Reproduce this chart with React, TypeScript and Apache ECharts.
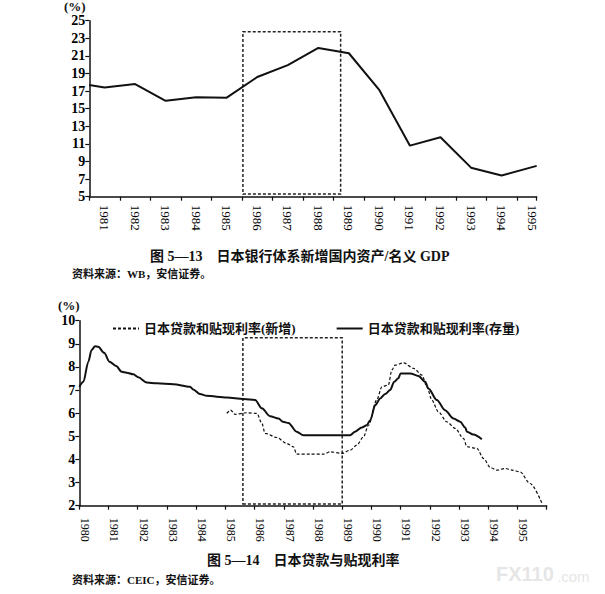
import React, { useEffect, useRef } from "react";
import * as echarts from "echarts";

// ---- Figure 5-13: new domestic assets of Japanese banking system / nominal GDP (%) ----
const topYears = [1980.5, 1981, 1982, 1983, 1984, 1985, 1986, 1987, 1988, 1989, 1990, 1991, 1992, 1993, 1994, 1995.15];
const topValues = [17.7, 17.4, 17.8, 15.9, 16.3, 16.25, 18.6, 19.95, 21.9, 21.3, 17.1, 10.8, 11.75, 8.3, 7.4, 8.5];
const topXRange = [1980.5, 1995.15];
const topYRange = [5, 25];
const topYStep = 2;
const topBox = [1985.53, 5.3, 1988.73, 23.75];

// ---- Figure 5-14: Japanese loan and discount rate (%) ----
const stockName = "日本贷款和贴现利率(存量)";
const newName = "日本贷款和贴现利率(新增)";
const stockYears = [
  1980.0, 1980.14, 1980.31, 1980.42, 1980.54, 1980.65, 1980.85, 1981.03, 1981.26, 1981.45,
  1981.62, 1981.85, 1982.02, 1982.31, 1982.65, 1983.22, 1983.79, 1983.9, 1984.13, 1984.36,
  1985.05, 1985.62, 1986.02, 1986.25, 1986.53, 1986.82, 1986.97, 1987.16, 1987.44, 1987.67,
  1988.59, 1989.27, 1989.44, 1989.67, 1989.84, 1989.96, 1990.13, 1990.3, 1990.47, 1990.64,
  1990.78, 1990.92, 1991.0, 1991.33, 1991.61, 1991.84, 1991.95, 1992.24, 1992.52, 1992.81,
  1993.04, 1993.21, 1993.27, 1993.49, 1993.78,
];
const stockValues = [
  7.14, 7.36, 8.23, 8.73, 8.9, 8.87, 8.61, 8.23, 8.04, 7.79,
  7.75, 7.68, 7.55, 7.33, 7.29, 7.25, 7.14, 7.03, 6.83, 6.75,
  6.68, 6.61, 6.57, 6.21, 5.87, 5.77, 5.63, 5.58, 5.2, 5.05,
  5.05, 5.05, 5.2, 5.38, 5.48, 5.7, 6.35, 6.64, 6.83, 7.0,
  7.36, 7.51, 7.72, 7.72, 7.61, 7.36, 7.07, 6.57, 6.13, 5.77,
  5.63, 5.38, 5.2, 5.08, 4.87,
];
const newYears = [
  1985.05, 1985.18, 1985.33, 1985.73, 1986.08, 1986.25, 1986.36, 1986.76, 1987.1, 1987.33,
  1987.44, 1987.9, 1988.36, 1988.59, 1988.99, 1989.27, 1989.5, 1989.73, 1989.9, 1990.18,
  1990.36, 1990.58, 1990.7, 1990.81, 1991.1, 1991.44, 1991.73, 1991.9, 1992.07, 1992.29,
  1992.58, 1992.87, 1993.15, 1993.27, 1993.61, 1993.84, 1994.07, 1994.29, 1994.58, 1994.81,
  1995.09, 1995.43, 1995.84,
];
const newValues = [
  5.99, 6.13, 5.95, 6.02, 5.99, 5.56, 5.13, 4.95, 4.69, 4.55,
  4.23, 4.23, 4.23, 4.33, 4.26, 4.4, 4.62, 4.98, 5.48, 6.57,
  7.14, 7.22, 7.87, 8.08, 8.18, 7.94, 7.65, 7.14, 6.57, 6.06,
  5.63, 5.34, 4.91, 4.55, 4.48, 4.04, 3.65, 3.54, 3.61, 3.54,
  3.46, 2.96, 2.1,
];
const botXRange = [1980, 1996];
const botYRange = [2, 10];
const botYStep = 1;
const botBox = [1985.6, 2.07, 1989.0, 9.26];

// ---- texts ----
const caption1 = "图 5—13\u3000日本银行体系新增国内资产/名义 GDP";
const source1 = "资料来源：WB，安信证券。";
const caption2 = "图 5—14\u3000日本贷款与贴现利率";
const source2 = "资料来源：CEIC，安信证券。";
const unitLabel = "(%)";

const INK = "#111";
const SERIF = '"Liberation Serif", "Noto Sans CJK SC", serif';

const zip = (xs: number[], ys: number[]) => xs.map((x, i) => [x, ys[i]]);

const boxArea = (b: number[]) => ({
  silent: true,
  itemStyle: {
    color: "rgba(0,0,0,0)",
    borderColor: "#222",
    borderWidth: 1.5,
    borderType: [3, 2],
  },
  data: [[{ coord: [b[0], b[1]] }, { coord: [b[2], b[3]] }]],
});

const tickAxis = (grid: number, range: number[]) => ({
  gridIndex: grid,
  type: "value",
  position: "bottom",
  min: range[0],
  max: range[1],
  interval: 1,
  axisLine: { show: true, onZero: false, lineStyle: { color: INK, width: 1.5 } },
  axisTick: { show: true, length: 4, lineStyle: { color: INK, width: 1.2 } },
  axisLabel: { show: false },
  splitLine: { show: false },
});

const labelAxis = (grid: number, range: number[], step: number, frac: number, margin: number, size: number) => ({
  gridIndex: grid,
  type: "value",
  position: "bottom",
  min: range[0],
  max: range[1],
  interval: step,
  axisLine: { show: false },
  axisTick: { show: false },
  splitLine: { show: false },
  axisLabel: {
    rotate: -90,
    margin,
    fontFamily: SERIF,
    fontSize: size,
    color: "#000",
    formatter: (v: number) => {
      const y = Math.floor(v + 1e-6);
      return Math.abs(v - y - frac) < 0.01 ? String(y) : "";
    },
  },
});

const valueAxis = (grid: number, range: number[], step: number) => ({
  gridIndex: grid,
  type: "value",
  min: range[0],
  max: range[1],
  interval: step,
  axisLine: { show: true, lineStyle: { color: INK, width: 1.5 } },
  axisTick: { show: true, length: 4, lineStyle: { color: INK, width: 1.2 } },
  axisLabel: { margin: 4, fontFamily: SERIF, fontWeight: "bold", fontSize: 14, color: "#000" },
  splitLine: { show: false },
});

const txt = (text: string, x: number, y: number, font: string, fill = INK) => ({
  type: "text",
  x,
  y,
  silent: true,
  style: { text, font, fill, align: "left", verticalAlign: "middle" },
});

export default function App() {
  const ref = useRef<HTMLDivElement>(null);

  useEffect(() => {
    if (!ref.current) return;
    const chart = echarts.init(ref.current, undefined, { renderer: "svg" });
    chart.setOption({
      animation: false,
      backgroundColor: "#fff",
      grid: [
        { left: 89.3, top: 20.7, width: 447.4, height: 176, outerBoundsMode: "none" },
        { left: 79.3, top: 320.7, width: 467.4, height: 185, outerBoundsMode: "none" },
      ],
      xAxis: [
        tickAxis(0, topXRange),
        labelAxis(0, topXRange, 0.5, 0, 8, 13),
        tickAxis(1, botXRange),
        labelAxis(1, botXRange, 0.2, 0.2, 12, 12),
      ],
      yAxis: [valueAxis(0, topYRange, topYStep), valueAxis(1, botYRange, botYStep)],
      legend: {
        left: 107,
        top: 317,
        itemWidth: 26,
        itemHeight: 8,
        itemGap: 40,
        data: [newName, stockName],
        itemStyle: { opacity: 0, color: "rgba(0,0,0,0)", borderWidth: 0 },
        textStyle: { fontFamily: SERIF, fontWeight: "bold", fontSize: 13, color: INK },
      },
      series: [
        {
          type: "line",
          name: "top",
          xAxisIndex: 0,
          yAxisIndex: 0,
          data: zip(topYears, topValues),
          symbol: "none",
          lineStyle: { color: INK, width: 2 },
          markArea: boxArea(topBox),
        },
        {
          type: "line",
          name: newName,
          xAxisIndex: 2,
          yAxisIndex: 1,
          data: zip(newYears, newValues),
          symbol: "none",
          smooth: 0.3,
          smoothMonotone: "x",
          color: INK,
          lineStyle: { color: INK, width: 1.2, type: [3, 2] },
        },
        {
          type: "line",
          name: stockName,
          xAxisIndex: 2,
          yAxisIndex: 1,
          data: zip(stockYears, stockValues),
          symbol: "none",
          smooth: 0.3,
          smoothMonotone: "x",
          color: INK,
          lineStyle: { color: INK, width: 2 },
          markArea: boxArea(botBox),
        },
      ],
      graphic: [
        txt(unitLabel, 64, 6.5, `bold 13px ${SERIF}`),
        txt(unitLabel, 58, 305.5, `bold 13px ${SERIF}`),
        txt(caption1, 150, 256.5, `bold 14px ${SERIF}`),
        txt(source1, 72, 274, `bold 11px ${SERIF}`),
        txt(caption2, 207, 560, `bold 14px ${SERIF}`),
        txt(source2, 72, 580, `bold 11px ${SERIF}`),
        txt("FX110", 496, 574, 'bold 20px "Liberation Sans", sans-serif', "#e6e6e6"),
        txt(".com", 557, 576, '15px "Liberation Sans", sans-serif', "#e6e6e6"),
      ],
    });
    return () => chart.dispose();
  }, []);

  return (
    <div
      ref={ref}
      style={{ position: "absolute", left: 0, top: 0, width: 605, height: 594 }}
    />
  );
}
